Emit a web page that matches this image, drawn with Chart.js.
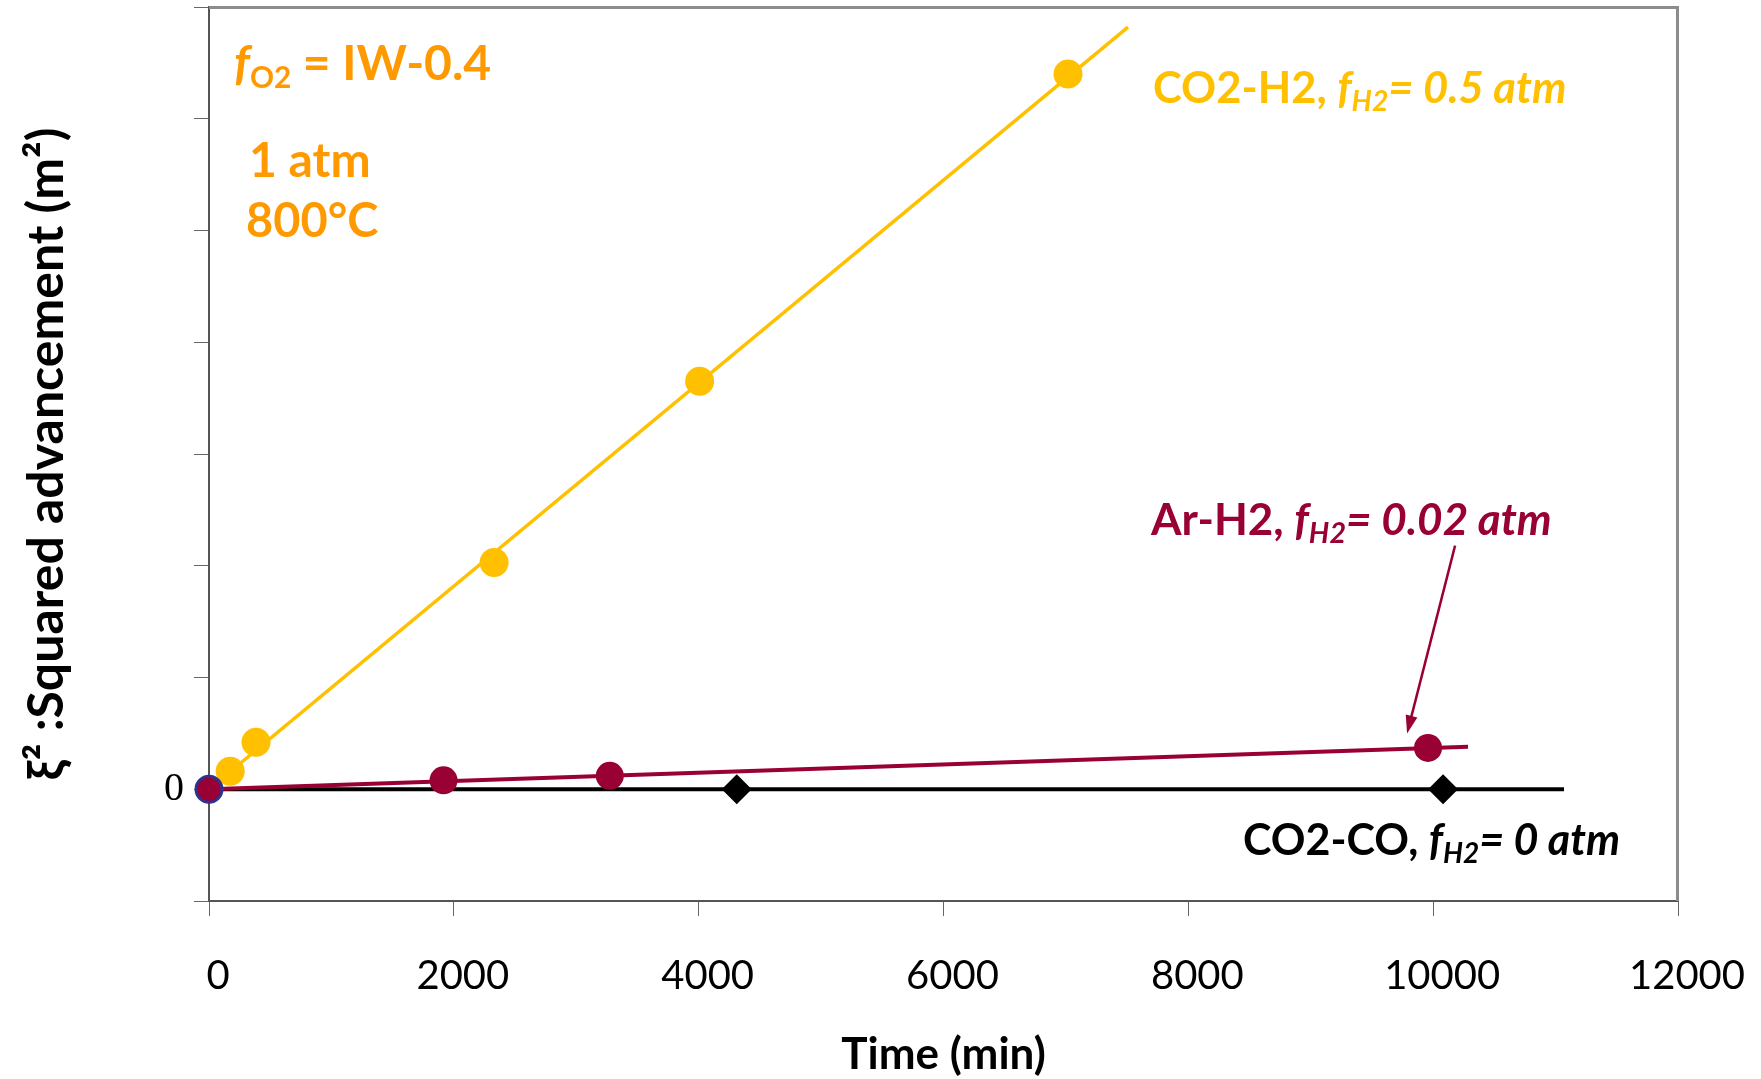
<!DOCTYPE html>
<html>
<head>
<meta charset="utf-8">
<title>Squared advancement vs time</title>
<script src="https://cdn.jsdelivr.net/npm/chart.js@4.4.1/dist/chart.umd.min.js"></script>
<style>
  html, body { margin: 0; padding: 0; background: #fff; }
  #chart { display: block; }
</style>
</head>
<body>
<canvas id="chart" width="1761" height="1079"></canvas>
<script>
// values (time in min, squared advancement in arbitrary units)
const co2h2Time = [173, 384, 2329, 4008, 7017];
const co2h2Sq   = [0.16, 0.42, 2.03, 3.65, 6.40];
const co2h2FitTime = [0, 7507];
const co2h2FitSq   = [0, 6.82];

const arh2Time = [1916, 3274, 9958];
const arh2Sq   = [0.08, 0.12, 0.37];
const arh2FitTime = [0, 10285];
const arh2FitSq   = [0, 0.38];

const co2coTime = [4311, 10081];
const co2coSq   = [0, 0];
const co2coFitTime = [0, 11069];
const co2coFitSq   = [0, 0];

const originTime = [0];
const originSq = [0];

const xTicks = [0, 2000, 4000, 6000, 8000, 10000, 12000];

const YELLOW = '#FFC000';
const WINE = '#990033';
const ORANGE = '#FF9900';

function pts(xs, ys) {
  return xs.map((x, i) => ({ x: x, y: ys[i] }));
}

// annotation texts, spans drawn one after the other
const notes = [
  { x: 234, y: 80, size: 48, color: ORANGE, spans: [
    { t: 'f', italic: true }, { t: 'O2', scale: 0.62, dy: 8 }, { t: ' = IW-0.4' } ] },
  { x: 249, y: 177, size: 48, color: ORANGE, spans: [ { t: '1 atm' } ] },
  { x: 246, y: 237, size: 47, color: ORANGE, spans: [ { t: '800°C' } ] },
  { x: 1153, y: 103, size: 43.5, color: YELLOW, spans: [
    { t: 'CO2-H2, ' }, { t: 'f', italic: true }, { t: 'H2', italic: true, scale: 0.65, dy: 8 },
    { t: '= 0.5 atm', italic: true } ] },
  { x: 1151, y: 535, size: 44, color: WINE, spans: [
    { t: 'Ar-H2, ' }, { t: 'f', italic: true }, { t: 'H2', italic: true, scale: 0.65, dy: 8 },
    { t: '= 0.02 atm', italic: true } ] },
  { x: 1243, y: 855, size: 43, color: '#000', spans: [
    { t: 'CO2-CO, ' }, { t: 'f', italic: true }, { t: 'H2', italic: true, scale: 0.65, dy: 8 },
    { t: '= 0 atm', italic: true } ] }
];

// arrow pointing at the last Ar-H2 point (data coords)
const arrowFrom = { x: 10179, y: 2.18 };
const arrowTo = { x: 9787, y: 0.50 };

const extras = {
  id: 'extras',
  afterDraw(chart) {
    const ctx = chart.ctx;
    const a = chart.chartArea;
    ctx.save();
    // grey frame on top and right
    ctx.strokeStyle = '#8c8c8c';
    ctx.lineWidth = 3;
    ctx.beginPath();
    ctx.moveTo(a.left, a.top + 0.5);
    ctx.lineTo(a.right - 0.5, a.top + 0.5);
    ctx.lineTo(a.right - 0.5, a.bottom);
    ctx.stroke();

    // arrow
    const xs = chart.scales.x, ys = chart.scales.y;
    const x1 = xs.getPixelForValue(arrowFrom.x), y1 = ys.getPixelForValue(arrowFrom.y);
    const x2 = xs.getPixelForValue(arrowTo.x), y2 = ys.getPixelForValue(arrowTo.y);
    const ang = Math.atan2(y2 - y1, x2 - x1);
    const head = 18;
    ctx.strokeStyle = WINE;
    ctx.fillStyle = WINE;
    ctx.lineWidth = 2.5;
    ctx.beginPath();
    ctx.moveTo(x1, y1);
    ctx.lineTo(x2 - Math.cos(ang) * head * 0.8, y2 - Math.sin(ang) * head * 0.8);
    ctx.stroke();
    ctx.beginPath();
    ctx.moveTo(x2, y2);
    ctx.lineTo(x2 - head * Math.cos(ang) + 6 * Math.sin(ang), y2 - head * Math.sin(ang) - 6 * Math.cos(ang));
    ctx.lineTo(x2 - head * Math.cos(ang) - 6 * Math.sin(ang), y2 - head * Math.sin(ang) + 6 * Math.cos(ang));
    ctx.closePath();
    ctx.fill();

    // text notes
    ctx.textBaseline = 'alphabetic';
    ctx.textAlign = 'left';
    notes.forEach(n => {
      let cx = n.x;
      ctx.fillStyle = n.color;
      n.spans.forEach(s => {
        const fs = n.size * (s.scale || 1);
        ctx.font = (s.italic ? 'italic ' : '') + 'bold ' + fs + 'px Lato';
        ctx.fillText(s.t, cx, n.y + (s.dy || 0));
        cx += ctx.measureText(s.t).width;
      });
    });
    ctx.restore();
  }
};

Chart.defaults.font.family = 'Lato';
Chart.defaults.color = '#000';

new Chart(document.getElementById('chart'), {
  type: 'scatter',
  data: {
    datasets: [
      { label: 'origin', data: pts(originTime, originSq), backgroundColor: WINE,
        borderColor: '#2E3192', borderWidth: 3, pointRadius: 13, clip: false },
      { label: 'Ar-H2 points', data: pts(arh2Time, arh2Sq), backgroundColor: WINE,
        borderColor: WINE, pointRadius: 14, borderWidth: 0, clip: false },
      { label: 'Ar-H2 fit', data: pts(arh2FitTime, arh2FitSq), showLine: true,
        borderColor: WINE, borderWidth: 4, pointRadius: 0 },
      { label: 'CO2-H2 points', data: pts(co2h2Time, co2h2Sq), backgroundColor: YELLOW,
        borderColor: YELLOW, pointRadius: 14.5, borderWidth: 0, clip: false },
      { label: 'CO2-H2 fit', data: pts(co2h2FitTime, co2h2FitSq), showLine: true,
        borderColor: YELLOW, borderWidth: 3.5, pointRadius: 0 },
      { label: 'CO2-CO points', data: pts(co2coTime, co2coSq), backgroundColor: '#000',
        borderColor: '#000', pointStyle: 'rectRot', pointRadius: 15, borderWidth: 0, clip: false },
      { label: 'CO2-CO fit', data: pts(co2coFitTime, co2coFitSq), showLine: true,
        borderColor: '#000', borderWidth: 4, pointRadius: 0 }
    ]
  },
  options: {
    responsive: false,
    animation: false,
    devicePixelRatio: 1,
    layout: { autoPadding: false, padding: { left: 0, right: 83, top: 7, bottom: 0 } },
    plugins: {
      legend: { display: false },
      tooltip: { enabled: false }
    },
    scales: {
      x: {
        type: 'linear',
        min: 0,
        max: 12000,
        afterBuildTicks: (scale) => { scale.ticks = xTicks.map(v => ({ value: v })); },
        afterFit: (scale) => { scale.height = 178; scale.paddingLeft = 0; scale.paddingRight = 0; },
        ticks: {
          font: { size: 40 },
          padding: 36,
          labelOffset: 9,
          maxRotation: 0,
          autoSkip: false,
          callback: (v) => String(v)
        },
        grid: { drawOnChartArea: false, drawTicks: true, tickLength: 15, color: '#666', lineWidth: 1 },
        border: { color: '#555', width: 2 },
        title: {
          display: true,
          text: 'Time (min)',
          font: { size: 44, weight: 'bold', lineHeight: 1 },
          padding: { top: 0, bottom: 2 }
        }
      },
      y: {
        type: 'linear',
        min: -1,
        max: 7,
        afterFit: (scale) => { scale.width = 209; scale.paddingTop = 0; scale.paddingBottom = 0; },
        ticks: {
          stepSize: 1,
          padding: 10,
          font: { family: 'Liberation Serif', size: 40 },
          callback: (v) => (v === 0 ? '0' : '')
        },
        grid: { drawOnChartArea: false, drawTicks: true, tickLength: 15, color: '#666', lineWidth: 1 },
        border: { color: '#555', width: 2 },
        title: {
          display: true,
          text: 'ξ² :Squared advancement (m²)',
          font: { size: 50, weight: 'bold', lineHeight: 1 },
          padding: { top: 22, bottom: 0 }
        }
      }
    }
  },
  plugins: [extras]
});
</script>
</body>
</html>
